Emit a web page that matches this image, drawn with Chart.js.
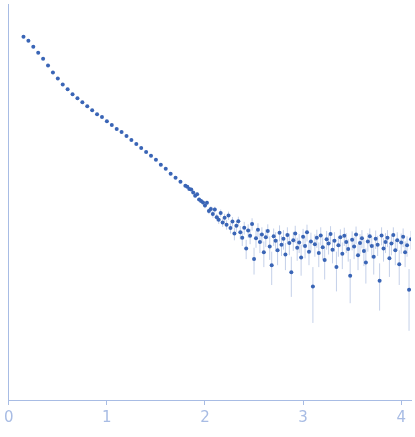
<!DOCTYPE html>
<html>
<head>
<meta charset="utf-8">
<script src="https://cdn.jsdelivr.net/npm/chart.js@4/dist/chart.umd.min.js"></script>
<style>
  html, body { margin: 0; padding: 0; background: #fff; }
  #wrap { width: 415px; height: 437px; }
</style>
</head>
<body>
<div id="wrap"><canvas id="chart"></canvas></div>
<script>
// smooth low-q part
const qSmooth = [0.15,0.2,0.25,0.3,0.35,0.4,0.45,0.5,0.55,0.6,0.65,0.7,0.75,0.8,0.85,0.9,0.95,1.0,
  1.05,1.1,1.15,1.2,1.25,1.3,1.35,1.4,1.45,1.5,1.55,1.6,1.65,1.7,1.75,1.8]
const iSmooth = [0.933,0.851,0.741,0.645,0.561,0.478,0.407,0.354,0.308,0.275,0.245,0.223,0.203,0.185,
  0.169,0.154,0.144,0.131,0.120,0.109,0.102,0.0928,0.0846,0.0771,0.0703,0.0641,0.0585,0.0533,0.0475,
  0.0433,0.0386,0.0352,0.0321,0.0292]

// noisy high-q part (intensity and error in units of 1e-3)
const qNoisy = [1.82,1.84,1.86,1.88,1.90,1.92,1.94,1.96,1.98,2.00,2.02,2.04,2.06,2.08,2.10,2.12,2.14,2.16,2.18,2.20,
  2.22,2.24,2.26,2.28,2.30,2.32,2.34,2.36,2.38,2.40,2.42,2.44,2.46,2.48,2.50,2.52,2.54,2.56,2.58,2.60,
  2.62,2.64,2.66,2.68,2.70,2.72,2.74,2.76,2.78,2.80,2.82,2.84,2.86,2.88,2.90,2.92,2.94,2.96,2.98,3.00,
  3.02,3.04,3.06,3.08,3.10,3.12,3.14,3.16,3.18,3.20,3.22,3.24,3.26,3.28,3.30,3.32,3.34,3.36,3.38,3.40,
  3.42,3.44,3.46,3.48,3.50,3.52,3.54,3.56,3.58,3.60,3.62,3.64,3.66,3.68,3.70,3.72,3.74,3.76,3.78,3.80,
  3.82,3.84,3.86,3.88,3.90,3.92,3.94,3.96,3.98,4.00,4.02,4.04,4.06,4.08,4.10]
const iNoisyE3 = [28.5,27.0,26.8,24.9,23.1,24.0,21.2,20.5,19.8,18.4,19.6,16.2,17.0,15.1,16.8,14.0,13.2,15.5,12.4,13.9,
  11.8,14.6,10.9,12.7,9.6,11.5,12.8,9.9,8.7,11.0,6.8,10.3,9.1,12.0,5.3,8.6,10.5,7.9,9.4,6.2,
  8.8,10.2,7.1,4.6,9.0,8.1,6.5,9.8,7.4,8.5,5.9,9.3,7.7,3.9,8.2,9.6,6.9,7.8,5.5,8.9,
  7.2,9.9,6.3,8.0,2.8,7.5,8.7,6.1,9.2,7.0,5.2,8.4,7.6,9.5,6.6,8.1,4.4,7.3,8.8,6.0,
  9.1,7.9,6.7,3.6,8.3,7.1,9.4,5.8,7.7,8.6,6.4,4.9,8.0,9.0,7.2,5.6,8.5,7.4,3.2,9.2,
  6.8,7.9,8.7,5.4,7.6,9.3,6.5,8.2,4.7,7.8,8.9,6.2,7.3,2.6,8.4]
const errNoisyE3 = [0.8,0.9,0.8,0.9,0.9,1.0,0.9,1.0,1.0,1.1,1.0,1.1,1.1,1.2,1.1,1.2,1.2,1.3,1.2,1.3,
  1.3,1.4,1.3,1.4,1.4,1.5,1.4,1.5,1.5,1.6,1.5,1.6,1.6,1.7,1.6,1.7,1.7,1.8,1.7,1.8,
  1.8,1.7,1.9,1.7,1.8,1.8,1.9,1.8,1.7,1.9,1.8,1.8,1.9,1.7,1.8,1.9,1.8,1.7,1.9,1.8,
  1.8,1.9,1.7,1.8,1.6,1.9,1.8,1.7,1.9,1.8,1.9,1.8,1.7,1.9,1.8,1.8,1.9,1.7,1.8,1.8,
  1.9,1.8,1.7,1.7,1.8,1.8,1.9,1.7,1.8,1.8,1.9,1.9,1.7,1.8,1.8,1.9,1.8,1.7,1.6,1.9,
  1.8,1.8,1.7,1.9,1.8,1.8,1.9,1.7,1.8,1.8,1.9,1.8,1.7,1.6,1.8]

const xTicks = [0,1,2,3,4]
const yTicks = [1,0.1,0.01]

const pts = []
qSmooth.forEach((q,i) => pts.push({x:q, y:iSmooth[i], e:iSmooth[i]*0.012}))
qNoisy.forEach((q,i) => pts.push({x:q, y:iNoisyE3[i]/1000, e:errNoisyE3[i]/1000}))

const axisCol = '#a8bce4'
const dotCol = '#3a65b6'

// vertical error bars behind the dots
const errorBars = {
  id: 'errorBars',
  beforeDatasetsDraw(chart) {
    const {ctx, scales:{x, y}, chartArea} = chart
    ctx.save()
    ctx.beginPath()
    ctx.rect(chartArea.left, chartArea.top, chartArea.right-chartArea.left, chartArea.bottom-chartArea.top)
    ctx.clip()
    ctx.strokeStyle = 'rgba(58,101,182,0.3)'
    ctx.lineWidth = 1
    pts.forEach(p => {
      const px = x.getPixelForValue(p.x)
      const lo = Math.max(p.y - p.e, 1e-5)
      ctx.beginPath()
      ctx.moveTo(px, y.getPixelForValue(p.y + p.e))
      ctx.lineTo(px, y.getPixelForValue(lo))
      ctx.stroke()
    })
    ctx.restore()
  }
}

new Chart(document.getElementById('chart'), {
  type: 'scatter',
  data: { datasets: [{ data: pts, backgroundColor: dotCol, borderColor: dotCol, pointRadius: 2, borderWidth: 0 }] },
  options: {
    responsive: true,
    maintainAspectRatio: false,
    animation: false,
    layout: { padding: { left: 4, right: 0, top: 0, bottom: 6 } },
    plugins: { legend: { display: false }, tooltip: { enabled: false } },
    scales: {
      x: {
        type: 'linear', min: 0, max: 4.1,
        afterBuildTicks: s => { s.ticks = xTicks.map(v => ({value: v})) },
        grid: { drawOnChartArea: false, color: axisCol, tickLength: 5 },
        border: { color: axisCol },
        ticks: { color: axisCol, font: { family: 'DejaVu Sans', size: 15 }, padding: 4, maxRotation: 0 }
      },
      y: {
        type: 'logarithmic', min: 2e-4, max: 2,
        afterBuildTicks: s => { s.ticks = yTicks.map(v => ({value: v})) },
        grid: { drawOnChartArea: false, color: axisCol, tickLength: 0 },
        border: { color: axisCol },
        ticks: { display: false }
      }
    }
  },
  plugins: [errorBars]
})
</script>
</body>
</html>
